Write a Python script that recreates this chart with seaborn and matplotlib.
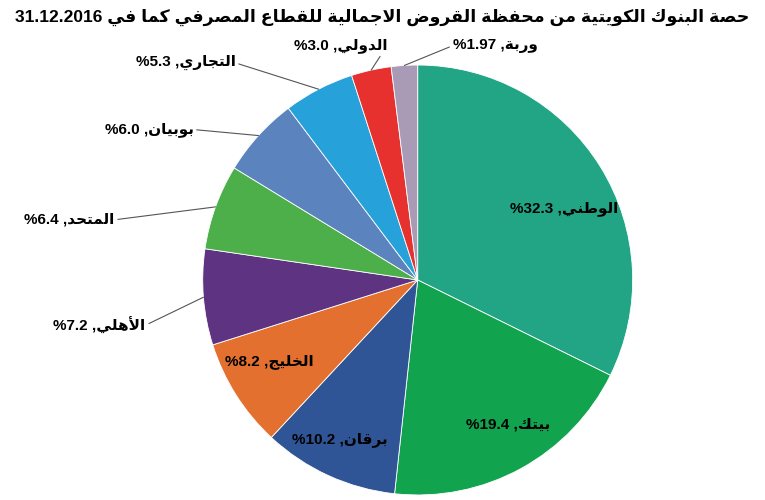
import matplotlib
matplotlib.use("Agg")
import matplotlib.pyplot as plt
import seaborn as sns
import numpy as np

sns.set_theme(style="white")
plt.rcParams['font.family'] = ['Liberation Sans', 'DejaVu Sans']
plt.rcParams['text.color'] = 'black'

banks = ["الوطني", "بيتك", "برقان", "الخليج", "الأهلي", "المتحد", "بوبيان", "التجاري", "الدولي", "وربة"]
shares = [32.3, 19.4, 10.2, 8.2, 7.2, 6.4, 6.0, 5.3, 3.0, 1.97]
share_text = ["32.3", "19.4", "10.2", "8.2", "7.2", "6.4", "6.0", "5.3", "3.0", "1.97"]
colors = ["#21a585", "#12a34f", "#2f5597", "#e3702f", "#5e3382", "#4caf4a", "#5b83bd", "#27a1d9", "#e6312f", "#a99ab5"]
title_ar = "حصة البنوك الكويتية من محفظة القروض الاجمالية للقطاع المصرفي كما في"
title_date = "31.12.2016"

# label positions (layout) in pie radius units, and whether outside with leader
label_pos = [(0.68, 0.33), (0.42, -0.67), (-0.36, -0.74), (-0.69, -0.38), (-1.48, -0.21),
             (-1.62, 0.28), (-1.25, 0.70), (-1.08, 1.01), (-0.36, 1.09), (0.36, 1.09)]
outside = [False, False, False, False, True, True, True, True, True, True]

# ---- minimal Arabic shaping ----
F = {
 'ا': (0xFE8D, 0xFE8E, None, None), 'أ': (0xFE83, 0xFE84, None, None),
 'إ': (0xFE87, 0xFE88, None, None), 'آ': (0xFE81, 0xFE82, None, None),
 'ة': (0xFE93, 0xFE94, None, None), 'د': (0xFEA9, 0xFEAA, None, None),
 'ذ': (0xFEAB, 0xFEAC, None, None), 'ر': (0xFEAD, 0xFEAE, None, None),
 'ز': (0xFEAF, 0xFEB0, None, None), 'و': (0xFEED, 0xFEEE, None, None),
 'ى': (0xFEEF, 0xFEF0, None, None),
}
for ch, base in [('ب', 0xFE8F), ('ت', 0xFE95), ('ث', 0xFE99), ('ج', 0xFE9D), ('ح', 0xFEA1),
                 ('خ', 0xFEA5), ('س', 0xFEB1), ('ش', 0xFEB5), ('ص', 0xFEB9), ('ض', 0xFEBD),
                 ('ط', 0xFEC1), ('ظ', 0xFEC5), ('ع', 0xFEC9), ('غ', 0xFECD), ('ف', 0xFED1),
                 ('ق', 0xFED5), ('ك', 0xFED9), ('ل', 0xFEDD), ('م', 0xFEE1), ('ن', 0xFEE5),
                 ('ه', 0xFEE9), ('ي', 0xFEF1)]:
    F[ch] = (base, base + 1, base + 2, base + 3)
LA = {'آ': (0xFEF5, 0xFEF6), 'أ': (0xFEF7, 0xFEF8), 'إ': (0xFEF9, 0xFEFA), 'ا': (0xFEFB, 0xFEFC)}

def dual(c):
    return c in F and F[c][2] is not None

def shape(s):
    out = []
    i = 0
    n = len(s)
    while i < n:
        c = s[i]
        if c not in F:
            out.append(c); i += 1; continue
        prev_j = i > 0 and dual(s[i - 1])
        if c == 'ل' and i + 1 < n and s[i + 1] in LA:
            out.append(chr(LA[s[i + 1]][1 if prev_j else 0])); i += 2; continue
        next_j = dual(c) and i + 1 < n and s[i + 1] in F
        f = F[c]
        if prev_j and next_j: g = f[3]
        elif prev_j: g = f[1]
        elif next_j: g = f[2]
        else: g = f[0]
        out.append(chr(g)); i += 1
    return out

def visual(s):
    return "".join(reversed(shape(s)))

fig = plt.figure(figsize=(7.65, 5.0), dpi=100)
ax = fig.add_axes([0.265, 0.01, 0.562, 0.86])
wedges, _ = ax.pie(shares, colors=colors, startangle=90, counterclock=False,
                   wedgeprops=dict(linewidth=0.6, edgecolor="white"))
ax.set_xlim(-1, 1); ax.set_ylim(-1, 1)
ax.set_aspect("equal")

for w, name, val, pos, out in zip(wedges, banks, share_text, label_pos, outside):
    txt = "%" + val + " ," + visual(name)
    if out:
        ang = np.deg2rad((w.theta1 + w.theta2) / 2)
        ax.annotate(txt, xy=(np.cos(ang), np.sin(ang)), xytext=pos, ha="center", va="center",
                    fontsize=11, fontweight="bold", color="black", annotation_clip=False,
                    arrowprops=dict(arrowstyle="-", color="#555555", lw=0.8, shrinkA=0, shrinkB=0,
                                    relpos=(1 if pos[0] < 0 else 0, 0.5)))
    else:
        ax.text(pos[0], pos[1], txt, ha="center", va="center", fontsize=11, fontweight="bold",
                color="black")

fig.text(0.5, 0.965, title_date + " " + visual(title_ar), ha="center", va="center",
         fontsize=12.5, fontweight="bold", color="black")
fig.savefig("out.png", dpi=100)
